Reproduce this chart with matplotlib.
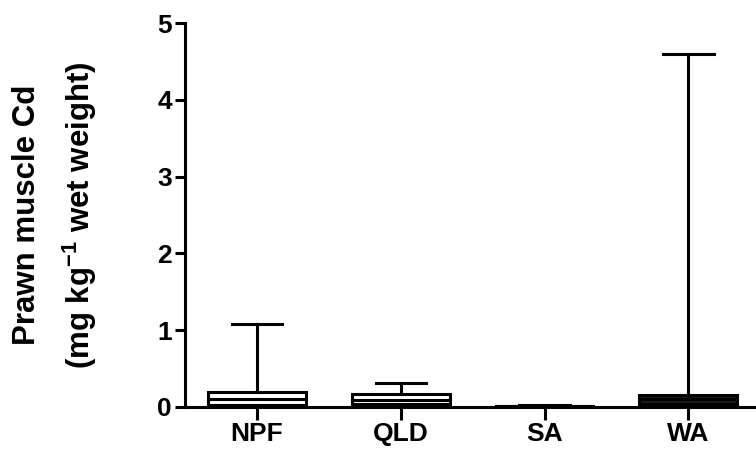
import matplotlib.pyplot as plt
import matplotlib

matplotlib.rcParams['font.family'] = ['Liberation Sans', 'DejaVu Sans']
matplotlib.rcParams['font.weight'] = 'bold'
matplotlib.rcParams['mathtext.fontset'] = 'custom'
matplotlib.rcParams['mathtext.rm'] = 'Liberation Sans:bold'
matplotlib.rcParams['mathtext.bf'] = 'Liberation Sans:bold'

# box summaries (mg/kg wet weight)
regions = ['NPF', 'QLD', 'SA', 'WA']
wlo = [0.0, 0.0, 0.0, 0.0]
q1 = [0.03, 0.04, 0.005, 0.04]
med = [0.10, 0.09, 0.01, 0.10]
q3 = [0.19, 0.17, 0.015, 0.15]
whi = [1.08, 0.31, 0.03, 4.6]
box_fill = ['white', 'white', 'white', '#1a1a1a']

stats = []
for i, name in enumerate(regions):
    stats.append({'label': name, 'whislo': wlo[i], 'q1': q1[i], 'med': med[i],
                  'q3': q3[i], 'whishi': whi[i], 'fliers': []})

fig = plt.figure(figsize=(7.56, 4.5), dpi=100)
ax = fig.add_axes([0.2447, 0.0956, 0.7553, 0.853])

lw = 2.2
bp = ax.bxp(stats, positions=[1, 2, 3, 4], widths=0.68, patch_artist=True,
            showfliers=False,
            boxprops=dict(facecolor='white', edgecolor='black', linewidth=lw),
            medianprops=dict(color='black', linewidth=lw),
            whiskerprops=dict(color='black', linewidth=lw),
            capprops=dict(color='black', linewidth=lw),
            capwidths=0.35)
for patch, c in zip(bp['boxes'], box_fill):
    patch.set_facecolor(c)

ax.set_xlim(0.5, 4.47)
ax.set_ylim(0, 5)
ax.set_yticks([0, 1, 2, 3, 4, 5])
ax.spines['top'].set_visible(False)
ax.spines['right'].set_visible(False)
ax.spines['left'].set_linewidth(2.2)
ax.spines['bottom'].set_linewidth(2.2)
ax.tick_params(axis='y', width=2.2, length=7.5, labelsize=19, pad=2)
ax.tick_params(axis='x', width=2.2, length=9, labelsize=19, pad=2)
for lab in ax.get_xticklabels() + ax.get_yticklabels():
    lab.set_fontweight('bold')

# two-line y label, placed by hand
fig.text(0.036, 0.522, 'Prawn muscle Cd', rotation=90, fontsize=22.5,
         fontweight='bold', ha='center', va='center')
fig.text(0.105, 0.522, '(mg kg$^{-1}$ wet weight)', rotation=90, fontsize=22.5,
         fontweight='bold', ha='center', va='center')

plt.savefig('out.png', dpi=100)
